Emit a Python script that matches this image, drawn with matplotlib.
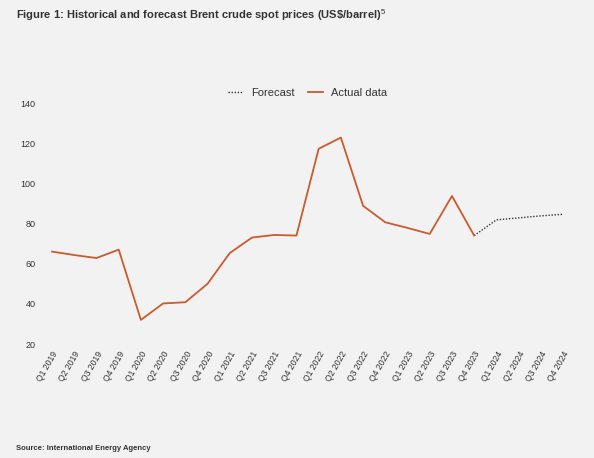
import matplotlib
matplotlib.use("Agg")
import matplotlib.pyplot as plt

plt.rcParams["font.family"] = ["Liberation Sans", "DejaVu Sans"]
plt.rcParams["mathtext.fontset"] = "custom"
plt.rcParams["mathtext.rm"] = "Liberation Sans"

quarters = ["Q1 2019", "Q2 2019", "Q3 2019", "Q4 2019",
            "Q1 2020", "Q2 2020", "Q3 2020", "Q4 2020",
            "Q1 2021", "Q2 2021", "Q3 2021", "Q4 2021",
            "Q1 2022", "Q2 2022", "Q3 2022", "Q4 2022",
            "Q1 2023", "Q2 2023", "Q3 2023", "Q4 2023",
            "Q1 2024", "Q2 2024", "Q3 2024", "Q4 2024"]
actual = [66, 64.3, 62.8, 67, 32, 40.2, 40.8, 50, 65.3, 73, 74.3, 74,
          117.2, 122.8, 88.8, 80.6, 77.8, 74.8, 93.7, 74]
# forecast starts from the last actual point
forecast_start = 19
forecast = [74, 81.8, 82.8, 83.8, 84.6]

bg = "#f2f2f2"
orange = "#c95b2c"
txt = "#333333"

fig = plt.figure(figsize=(5.94, 4.58), dpi=100, facecolor=bg)
ax = fig.add_axes([0.0689, 0.2489, 0.8977, 0.5262], facecolor=bg)

x_act = list(range(len(actual)))
x_fc = list(range(forecast_start, forecast_start + len(forecast)))
ax.plot(x_fc, forecast, color="#333333", linestyle=(0, (1, 1.2)), linewidth=1.0, label="Forecast")
ax.plot(x_act, actual, color=orange, linewidth=1.3, label="Actual data")

ax.set_xlim(-0.5, 23.5)
ax.set_ylim(20, 140)
ax.set_yticks(range(20, 141, 20))
ax.set_xticks(range(len(quarters)))
ax.set_xticklabels(quarters, rotation=60, ha="right", rotation_mode="anchor", fontsize=6.2)
ax.tick_params(axis="both", length=0, colors=txt)
ax.tick_params(axis="y", pad=4, labelsize=6.5)
ax.tick_params(axis="x", pad=4)
for s in ax.spines.values():
    s.set_visible(False)

leg = ax.legend(loc="center", bbox_to_anchor=(0.5, 1.0415), ncol=2, frameon=False,
                fontsize=8, handlelength=1.4, columnspacing=1.2, handletextpad=0.7)
for t in leg.get_texts():
    t.set_color(txt)

fig.text(0.027, 0.958, "Figure 1: Historical and forecast Brent crude spot prices (US\\$/barrel)$^{5}$",
         fontsize=8, fontweight="bold", color=txt, va="baseline")
fig.text(0.027, 0.018, "Source: International Energy Agency",
         fontsize=5.5, fontweight="bold", color=txt, va="baseline")

fig.savefig("out.png", dpi=100, facecolor=bg)
